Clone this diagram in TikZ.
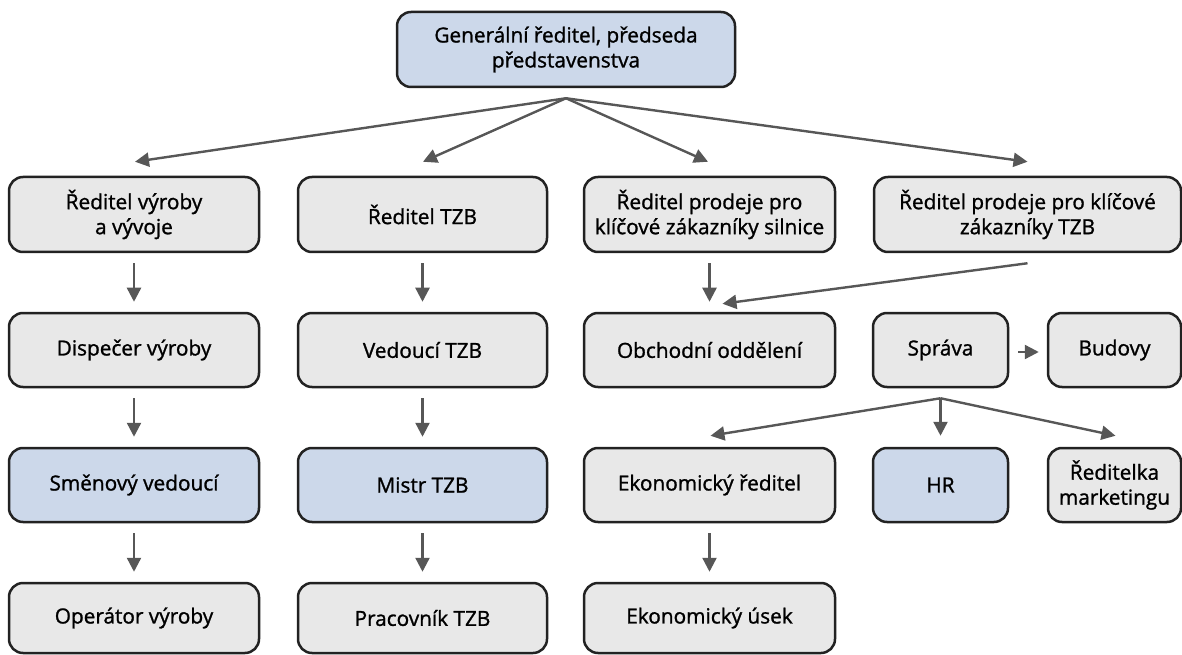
\documentclass[tikz,border=0pt]{standalone}
\usepackage{fontspec}
\setmainfont{Open Sans}
\newfontfamily\boxfont{Open Sans}[FakeBold=1.2]
\usetikzlibrary{calc,arrows.meta}
\definecolor{boxgray}{HTML}{E8E8E8}
\definecolor{boxblue}{HTML}{CCD8EA}
\definecolor{edge}{HTML}{222222}
\definecolor{arrowgray}{HTML}{575757}
\begin{document}
\begin{tikzpicture}[x=1pt,y=1pt,
  unit/.style={draw=edge, line width=2.5pt, rounded corners=14pt, fill=boxgray,
    align=center, inner sep=0pt, text=black,
    font=\boxfont\fontsize{20.8}{25}\selectfont},
  bluebox/.style={unit, fill=boxblue},
  link/.style={draw=arrowgray, line width=2.4pt,
    -{Triangle[length=14pt,width=14pt]}}]
\useasboundingbox (0,0) rectangle (1182,654);
% top
\node[bluebox, minimum width=338pt, minimum height=75pt] (gen) at (566,604.5)
  {Generální ředitel, předseda\\ představenstva};
% row 1
\node[unit, minimum width=250pt, minimum height=75pt] (r1) at (134,439.5) {Ředitel výroby\\ a vývoje};
\node[unit, minimum width=249pt, minimum height=75pt] (r2) at (422.5,439.5) {Ředitel TZB};
\node[unit, minimum width=251pt, minimum height=75pt] (r3) at (709.5,439.5) {Ředitel prodeje pro\\ klíčové zákazníky silnice};
\node[unit, minimum width=307pt, minimum height=75pt] (r4) at (1027.5,439.5) {Ředitel prodeje pro klíčové\\ zákazníky TZB};
% row 2
\node[unit, minimum width=250pt, minimum height=74pt] (d1) at (134,304) {Dispečer výroby};
\node[unit, minimum width=249pt, minimum height=74pt] (d2) at (422.5,304) {Vedoucí TZB};
\node[unit, minimum width=251pt, minimum height=74pt] (d3) at (709.5,304) {Obchodní oddělení};
\node[unit, minimum width=135pt, minimum height=74pt] (spr) at (940.5,304) {Správa};
\node[unit, minimum width=133pt, minimum height=74pt] (bud) at (1114.5,304) {Budovy};
% row 3
\node[bluebox, minimum width=250pt, minimum height=74pt] (s1) at (134,169) {Směnový vedoucí};
\node[bluebox, minimum width=249pt, minimum height=74pt] (s2) at (422.5,169) {Mistr TZB};
\node[unit, minimum width=251pt, minimum height=74pt] (ek) at (709.5,169) {Ekonomický ředitel};
\node[bluebox, minimum width=135pt, minimum height=74pt] (hr) at (940.5,169) {HR};
\node[unit, minimum width=133pt, minimum height=74pt] (mk) at (1114.5,169) {Ředitelka\\ marketingu};
% row 4
\node[unit, minimum width=250pt, minimum height=70pt] (o1) at (134,36) {Operátor výroby};
\node[unit, minimum width=249pt, minimum height=70pt] (o2) at (422.5,36) {Pracovník TZB};
\node[unit, minimum width=251pt, minimum height=70pt] (eu) at (709.5,36) {Ekonomický úsek};
% fork points
\coordinate (genfork) at ($(gen.south)+(0,-10)$);
\coordinate (sprfork) at ($(spr.south)+(0,-10)$);
% connectors from the top
\draw[link] (genfork) -- ($(r1.north)+(1,14)$);
\draw[link] (genfork) -- ($(r2.north)+(0.5,14)$);
\draw[link] (genfork) -- ($(r3.north)+(-1.5,14)$);
\draw[link] (genfork) -- ($(r4.north)+(0,14)$);
% vertical chains
\foreach \a/\b in {r1/d1,d1/s1,s1/o1,r2/d2,d2/s2,s2/o2,r3/d3,ek/eu}
  \draw[link] ($(\a.south)+(0,-10)$) -- ($(\b.north)+(0,10)$);
\draw[link] ($(r4.south)+(0,-10)$) -- ($(d3.north)+(13,8)$);
% administration
\draw[link] ($(spr.east)+(9,-2)$) -- ($(bud.west)+(-8,-2)$);
\draw[link] (sprfork) -- ($(ek.north)+(1,11)$);
\draw[link] (sprfork) -- ($(hr.north)+(0,11)$);
\draw[link] (sprfork) -- ($(mk.north)+(1,11)$);
\end{tikzpicture}
\end{document}
